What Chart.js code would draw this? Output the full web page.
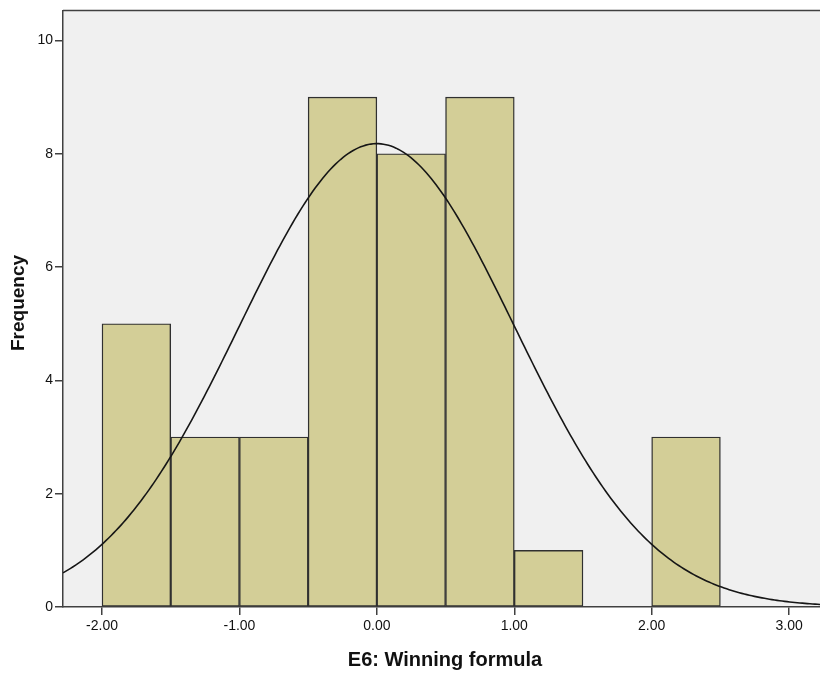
<!DOCTYPE html>
<html>
<head>
<meta charset="utf-8">
<title>E6: Winning formula</title>
<script src="https://cdn.jsdelivr.net/npm/chart.js@4/dist/chart.umd.min.js"></script>
<style>
  html, body { margin: 0; padding: 0; background: #ffffff; }
  canvas { display: block; }
</style>
</head>
<body>
<canvas id="hist" width="820" height="677"></canvas>
<script>
// Histogram bins (lower edge, upper edge) and frequencies
const binStarts = [-2.0, -1.5, -1.0, -0.5, 0.0, 0.5, 1.0, 2.0];
const binEnds   = [-1.5, -1.0, -0.5, 0.0, 0.5, 1.0, 1.5, 2.5];
const counts    = [5, 3, 3, 9, 8, 9, 1, 3];

// Axis tick values
const xTicks = [-2, -1, 0, 1, 2, 3];
const yTicks = [0, 2, 4, 6, 8, 10];

// Normal curve parameters for the overlay
const mean = 0.0;
const sd = 1.0;
const binWidth = 0.5;
const n = counts.reduce((a, b) => a + b, 0);

const xMin = -2.284, xMax = 3.225;
const yMax = 10.53;

const barPoints = binStarts.map((s, i) => ({ x: (s + binEnds[i]) / 2, y: counts[i] }));

// Expected frequency per bin under the fitted normal distribution
function normalFreq(x) {
  const z = (x - mean) / sd;
  return n * binWidth / (sd * Math.sqrt(2 * Math.PI)) * Math.exp(-0.5 * z * z);
}
const curvePoints = [];
for (let i = 0; i <= 300; i++) {
  const x = xMin + (xMax - xMin) * i / 300;
  curvePoints.push({ x: x, y: normalFreq(x) });
}

const AXIS_COLOR = '#404040';
const TEXT_COLOR = '#111111';

const plotFrame = {
  id: 'plotFrame',
  beforeDraw(chart) {
    const { ctx, chartArea: a } = chart;
    ctx.save();
    ctx.fillStyle = '#f0f0f0';
    ctx.fillRect(a.left, a.top, a.right - a.left, a.bottom - a.top);
    ctx.restore();
  },
  afterDraw(chart) {
    const { ctx, chartArea: a } = chart;
    ctx.save();
    ctx.strokeStyle = AXIS_COLOR;
    ctx.lineWidth = 1.5;
    ctx.beginPath();
    ctx.moveTo(a.left, a.top);
    ctx.lineTo(a.right, a.top);
    ctx.stroke();

    // axis titles
    ctx.fillStyle = TEXT_COLOR;
    ctx.textAlign = 'center';
    ctx.textBaseline = 'middle';
    ctx.font = 'bold 20px "Liberation Sans", Arial, sans-serif';
    ctx.fillText('E6: Winning formula', 445, 660);
    ctx.font = 'bold 19px "Liberation Sans", Arial, sans-serif';
    ctx.translate(19, 303);
    ctx.rotate(-Math.PI / 2);
    ctx.fillText('Frequency', 0, 0);
    ctx.restore();
  }
};

new Chart(document.getElementById('hist'), {
  type: 'bar',
  data: {
    datasets: [
      {
        type: 'line',
        data: curvePoints,
        borderColor: '#161616',
        borderWidth: 1.6,
        pointRadius: 0,
        fill: false,
        tension: 0,
        order: 0
      },
      {
        type: 'bar',
        data: barPoints,
        backgroundColor: '#d3ce97',
        borderColor: '#303030',
        borderWidth: 1.4,
        borderSkipped: false,
        barPercentage: 1.0,
        categoryPercentage: 1.0,
        order: 1
      }
    ]
  },
  options: {
    responsive: false,
    animation: false,
    devicePixelRatio: 1,
    layout: { padding: { top: 10, right: 0, left: 0, bottom: 0 } },
    plugins: {
      legend: { display: false },
      tooltip: { enabled: false }
    },
    scales: {
      x: {
        type: 'linear',
        min: xMin,
        max: xMax,
        offset: false,
        afterFit(scale) { scale.height = 70; },
        afterBuildTicks(scale) { scale.ticks = xTicks.map(v => ({ value: v })); },
        border: { display: true, color: AXIS_COLOR, width: 1.5 },
        grid: { offset: false, drawOnChartArea: false, drawTicks: true, tickLength: 8, color: AXIS_COLOR, lineWidth: 1.5 },
        ticks: {
          padding: 3,
          color: TEXT_COLOR,
          font: { family: '"Liberation Sans", Arial, sans-serif', size: 14 },
          callback: v => v.toFixed(2),
          maxRotation: 0,
          autoSkip: false
        }
      },
      y: {
        type: 'linear',
        min: 0,
        max: yMax,
        afterFit(scale) { scale.width = 63; },
        afterBuildTicks(scale) { scale.ticks = yTicks.map(v => ({ value: v })); },
        border: { display: true, color: AXIS_COLOR, width: 1.5 },
        grid: { drawOnChartArea: false, drawTicks: true, tickLength: 8, color: AXIS_COLOR, lineWidth: 1.5 },
        ticks: {
          padding: 2,
          color: TEXT_COLOR,
          font: { family: '"Liberation Sans", Arial, sans-serif', size: 14 },
          callback: v => String(v)
        }
      }
    }
  },
  plugins: [plotFrame]
});
</script>
</body>
</html>
